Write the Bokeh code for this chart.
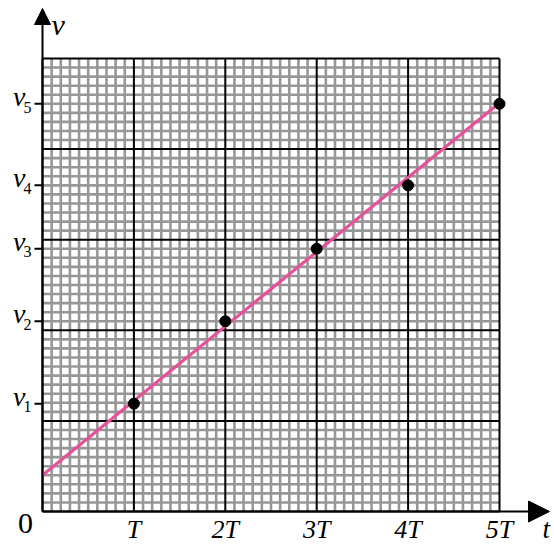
import numpy as np
from bokeh.plotting import figure
from bokeh.models import Range1d, Arrow, NormalHead
from bokeh.core.properties import value
from bokeh.embed import file_html
from bokeh.resources import INLINE

# ---- data ----
periods = [1, 2, 3, 4, 5]                 # t in units of T
x_labels = ["T", "2T", "3T", "4T", "5T"]
speeds = [1.19, 2.10, 2.90, 3.60, 4.50]   # v1..v5 in major grid units
v_main = ["v", "v", "v", "v", "v"]
v_subs = ["1", "2", "3", "4", "5"]
fit_t = [0.0, 5.0]
fit_v = [0.40, 4.51]

# ---- layout constants ----
W, H = 554, 544
ORIGIN_X, ORIGIN_Y = 42, 511   # canvas px of data (0, 0)
PX_X, PX_Y = 91.4, 90.6        # px per major grid unit
BASE_FIX = 0.30                # baseline correction, fraction of font size


def dx(px):
    return px / PX_X


def dy(px):
    return px / PX_Y


def base(y_data, below_px, size):
    """data y for a text whose baseline should sit below_px under y_data"""
    return y_data - dy(below_px - BASE_FIX * size)


p = figure(width=W, height=H, output_backend="svg", toolbar_location=None,
           x_axis_type=None, y_axis_type=None, min_border=0,
           x_range=Range1d(-ORIGIN_X / PX_X, (W - ORIGIN_X) / PX_X),
           y_range=Range1d(-(H - ORIGIN_Y) / PX_Y, ORIGIN_Y / PX_Y))
p.outline_line_color = None
p.grid.visible = False
p.background_fill_color = "white"
p.border_fill_color = "white"

# ---- graph paper ----
minor = np.round(np.arange(0.1, 5.0, 0.1), 2)
minor = minor[np.abs(minor - np.round(minor)) > 1e-6]
p.segment(x0=minor, y0=0, x1=minor, y1=5, line_color="#979797", line_width=2.6)
p.segment(x0=0, y0=minor, x1=5, y1=minor, line_color="#979797", line_width=2.6)
major = np.arange(0, 6)
p.segment(x0=major, y0=0, x1=major, y1=5, line_color="black", line_width=2)
p.segment(x0=0, y0=major, x1=5, y1=major, line_color="black", line_width=2)

# ---- axes with arrows ----
p.add_layout(Arrow(x_start=0, y_start=0, x_end=5 + dx(50), y_end=0,
                   line_color="black", line_width=2,
                   end=NormalHead(size=21, fill_color="black", line_color="black", line_width=1)))
p.add_layout(Arrow(x_start=0, y_start=0, x_end=0, y_end=5 + dy(50),
                   line_color="black", line_width=2,
                   end=NormalHead(size=16, fill_color="black", line_color="black", line_width=1)))

# y ticks at the v values
p.segment(x0=-dx(8), y0=speeds, x1=0, y1=speeds, line_color="black", line_width=2)

# ---- fitted line and points ----
p.line(fit_t, fit_v, line_color="#e6519a", line_width=3.2)
p.scatter(periods, speeds, size=11, fill_color="black", line_color="black")

serif = value("Liberation Serif")

# x tick labels
p.text(x=periods, y=[base(0, 26, 26)] * len(periods), text=x_labels, text_font=serif,
       text_font_style="italic", text_font_size="26px", text_align="center",
       text_baseline="alphabetic", text_color="black")

# y tick labels with subscripts
p.text(x=[-dx(17)] * len(speeds), y=[base(s, 1, 28) for s in speeds], text=v_main,
       text_font=serif, text_font_style="italic", text_font_size="28px",
       text_align="right", text_baseline="alphabetic", text_color="black")
p.text(x=[-dx(19)] * len(speeds), y=[base(s, 8, 16) for s in speeds], text=v_subs,
       text_font=serif, text_font_style="normal", text_font_size="16px",
       text_align="left", text_baseline="alphabetic", text_color="black")

# axis names and origin
p.text(x=[dx(9)], y=[base(5, -25, 30)], text=["v"], text_font=serif, text_font_style="italic",
       text_font_size="30px", text_align="left", text_baseline="alphabetic", text_color="black")
p.text(x=[5 + dx(43)], y=[base(0, 26, 27)], text=["t"], text_font=serif, text_font_style="italic",
       text_font_size="27px", text_align="left", text_baseline="alphabetic", text_color="black")
p.text(x=[-dx(17)], y=[base(0, 21, 30)], text=["0"], text_font=serif, text_font_style="normal",
       text_font_size="30px", text_align="center", text_baseline="alphabetic", text_color="black")

open("out.html", "w").write(file_html(p, INLINE))
